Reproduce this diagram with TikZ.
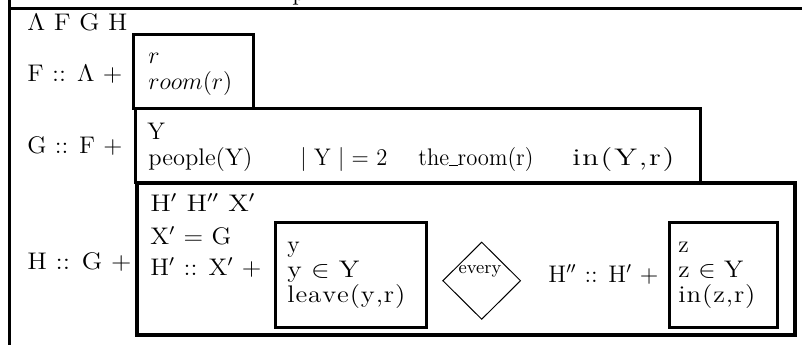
\documentclass[tikz,border=0pt]{standalone}
\usetikzlibrary{shapes.geometric}
\newcommand\stretchto[2]{\resizebox{#1}{\height}{#2}}
\newcommand\lowbar{\rule[-0.6pt]{4.5pt}{0.8pt}}
\begin{document}
\begin{tikzpicture}[x=0.5pt,y=-0.5pt,
  txt/.style={anchor=base west, inner sep=0pt, font=\fontsize{12}{13}\selectfont},
  boxline/.style={line width=1.5pt},
  bigbox/.style={line width=2pt},
  dia/.style={diamond, draw, line width=0.5pt, inner sep=0pt, minimum width=39pt, minimum height=38.7pt},
  small/.style={inner sep=0pt, font=\fontsize{9}{10}\selectfont}]
\useasboundingbox (0,0) rectangle (802,345);
% outer frame
\coordinate (ftop) at (9,0);
\coordinate (fbot) at (9,345);
\coordinate (tl) at (9,8);
\coordinate (tr) at (802,8);
\draw[boxline] (ftop) -- (fbot);
\draw[boxline] (tl) -- (tr);
\node[txt] (p) at (292,0.5) {p};
\node[txt] (head) at (27,30) {\stretchto{50pt}{$\Lambda$ F G H}};
% F
\node[txt] (Flab) at (27,81) {\stretchto{47.5pt}{F :: $\Lambda$ $+$}};
\draw[boxline] (133,34) rectangle (253,108);
\node[txt] (Fr) at (148,63) {$r$};
\node[txt] (Froom) at (148,89) {$room(r)$};
% G
\node[txt] (Glab) at (27,153) {\stretchto{47.5pt}{G :: F $+$}};
\draw[boxline] (135,108) rectangle (700,182);
\node[txt] (GY) at (147,139) {Y};
\node[txt] (Gp) at (148,165) {\stretchto{52pt}{people(Y)}};
\node[txt] (Gc) at (300,165) {\stretchto{43.5pt}{$|$ Y $|$ $=$ 2}};
\node[txt] (Gt) at (418,165) {\stretchto{57.5pt}{the\lowbar room(r)}};
\node[txt] (Gi) at (572,165) {\stretchto{51pt}{i\kern0.5pt n\kern0.7pt(\kern0.7pt Y\kern0.7pt,\kern0.7pt r\kern0.7pt)}};
% H
\node[txt] (Hlab) at (27,269) {\stretchto{52pt}{H :: G $+$}};
\draw[bigbox] (137,183) rectangle (795,335);
\node[txt] (H1) at (150,211) {\stretchto{52.5pt}{H$'$ H$''$ X$'$}};
\node[txt] (H2) at (150,244) {\stretchto{40.5pt}{X$'$ $=$ G}};
\node[txt] (H3) at (150,275) {\stretchto{55.5pt}{H$'$ :: X$'$ $+$}};
\draw[boxline] (275,222) rectangle (426,327);
\node[txt] (y1) at (287,252) {y};
\node[txt] (y2) at (287,277) {\stretchto{36pt}{y $\in$ Y}};
\node[txt] (y3) at (287,302) {\stretchto{59pt}{l\kern0.4pt e\kern0.4pt a\kern0.4pt v\kern0.4pt e\kern0.4pt(\kern0.4pt y\kern0.4pt,\kern0.4pt r\kern0.4pt)}};
\node[dia] (ev) at (481.7,280.7) {};
\node[small] (evt) at (480,271.7) {every};
\node[txt] (H4) at (548,282) {\stretchto{55pt}{H$''$ :: H$'$ $+$}};
\draw[boxline] (669,222) rectangle (777,327);
\node[txt] (z1) at (678,252) {z};
\node[txt] (z2) at (678,277) {\stretchto{32.5pt}{z $\in$ Y}};
\node[txt] (z3) at (678,302) {\stretchto{38.5pt}{i\kern0.4pt n\kern0.4pt(\kern0.4pt z\kern0.4pt,\kern0.4pt r\kern0.4pt)}};
\end{tikzpicture}
\end{document}
